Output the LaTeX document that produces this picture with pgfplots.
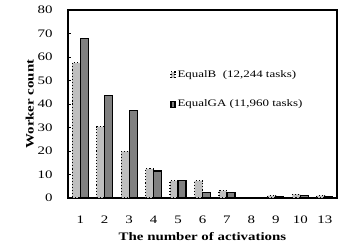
\documentclass[border=0pt]{standalone}
\usepackage{pgfplots}
\pgfplotsset{compat=1.18}
\usepackage{fontspec}
\setmainfont{Liberation Serif}[FakeStretch=1.3]
\begin{document}
\begin{tikzpicture}
\useasboundingbox (-68bp,-46bp) rectangle (281bp,198bp);
\begin{axis}[
  scale only axis,
  width=269bp, height=188bp,
  ybar=0pt, bar width=8bp,
  xmin=-0.5, xmax=10.5,
  ymin=0, ymax=80,
  ytick={0,10,...,80},
  xtick={0,...,10},
  xticklabels={1,2,3,4,5,6,7,8,9,10,13},
  x tick style={draw=none},
  extra x ticks={0.5,1.5,...,9.5},
  extra x tick labels={},
  extra x tick style={tick style={draw=black, line width=0.8bp}, major tick length=3bp, tick align=inside},
  ytick pos=left, tick align=inside,
  y tick style={draw=black, line width=0.8bp},
  major tick length=3bp,
  axis line style={line width=1.6bp},
  /pgf/number format/assume math mode=true,
  tick label style={font=\fontsize{11.5}{13}\selectfont},
  xticklabel style={yshift=-14bp},
  yticklabel style={xshift=-12bp},
  xlabel={\textbf{The number of activations}},
  ylabel={\textbf{Worker count}},
  label style={font=\fontsize{11.5}{13}\selectfont},
  xlabel style={yshift=-2bp},
  ylabel style={yshift=-3bp},
  legend style={at={(rel axis cs:0.38,0.70)}, anchor=north west, draw=none, fill=none,
    font=\fontsize{10}{12}\selectfont, row sep=17bp, inner xsep=0pt,
    /tikz/every even column/.append style={column sep=0pt}},
  legend cell align=left,
]
\addplot[fill=black!25, draw=black, dotted, line width=1.1bp,
  legend image code/.code={\draw[fill=black!25, draw=black, dotted, line width=1.1bp] (0bp,-3bp) rectangle (4bp,3bp);}]
  coordinates {(0,57.5) (1,30.4) (2,19.8) (3,12.4) (4,7.3) (5,7.3) (6,3.1) (7,0) (8,1) (9,1.5) (10,1)};
\addlegendentry{EqualB\ \ (12,244 tasks)}
\addplot[fill=black!50, draw=black, solid, line width=1.1bp,
  legend image code/.code={\draw[fill=black!50, draw=black, solid, line width=1.1bp] (0bp,-3bp) rectangle (4bp,3bp);}]
  coordinates {(0,68) (1,43.5) (2,37.2) (3,11.5) (4,7.3) (5,2.4) (6,2.2) (7,0) (8,0.7) (9,1) (10,0.7)};
\addlegendentry{EqualGA\ (11,960 tasks)}
\end{axis}
\end{tikzpicture}
\end{document}
